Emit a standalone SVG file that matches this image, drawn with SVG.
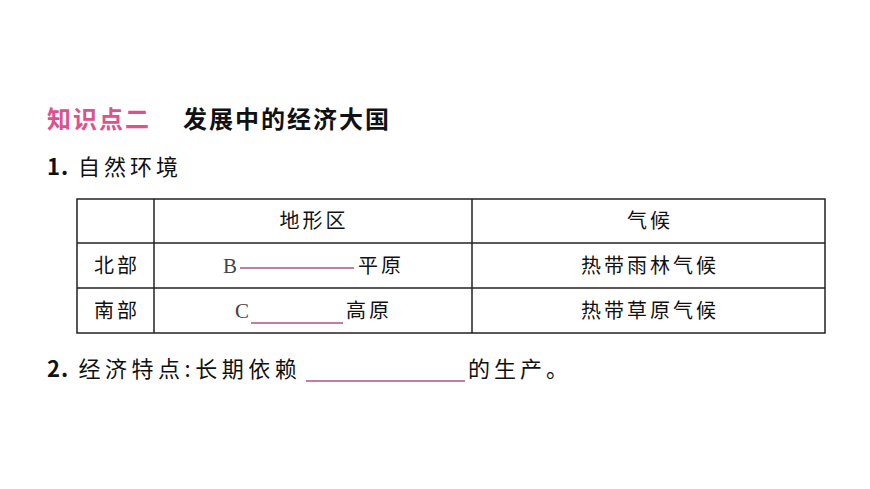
<svg xmlns="http://www.w3.org/2000/svg" width="870" height="489" viewBox="0 0 870 489">
<style>
.t{font-family:"Noto Sans CJK SC","Noto Sans",sans-serif;font-size:20px;fill:#111;letter-spacing:3px}
.b{font-weight:bold;font-size:24px;letter-spacing:2px}
.m{font-size:22px;letter-spacing:4px}
.s{font-family:"Liberation Serif","Noto Sans CJK SC",serif;font-size:21px;fill:#444}
.u{stroke:#b0508a;stroke-width:1.3}
.g{stroke:#222;stroke-width:1.5;fill:none}
</style>
<rect width="870" height="489" fill="#fff"/>
<g id="heading">
<text class="t b" x="47" y="128" style="fill:#e0508f">知识点二</text>
<text class="t b" x="183" y="128">发展中的经济大国</text>
</g>
<g id="section1"><text class="t m" x="47" y="175"><tspan font-weight="bold" style="letter-spacing:1px">1.</tspan> 自然环境</text></g>
<g id="table">
<rect class="g" x="77" y="199" width="748" height="134" stroke-width="2"/>
<line class="g" x1="77" y1="243" x2="825" y2="243"/>
<line class="g" x1="77" y1="288" x2="825" y2="288"/>
<line class="g" x1="154" y1="199" x2="154" y2="333"/>
<line class="g" x1="472" y1="199" x2="472" y2="333"/>
<text class="t" x="314" y="228" text-anchor="middle">地形区</text>
<text class="t" x="650" y="228" text-anchor="middle">气候</text>
<text class="t" x="117" y="273" text-anchor="middle">北部</text>
<text class="t" x="117" y="318" text-anchor="middle">南部</text>
<text class="s" x="223" y="273">B</text>
<line class="u" x1="240" y1="268" x2="354" y2="268"/>
<text class="t" x="358" y="273">平原</text>
<text class="s" x="235" y="318">C</text>
<line class="u" x1="251" y1="323" x2="343" y2="323"/>
<text class="t" x="346" y="318">高原</text>
<text class="t" x="650" y="273" text-anchor="middle">热带雨林气候</text>
<text class="t" x="650" y="318" text-anchor="middle">热带草原气候</text>
</g>
<g id="section2">
<text class="t m" x="47" y="377" style="letter-spacing:4.5px"><tspan font-weight="bold" style="letter-spacing:1px">2.</tspan> 经济特点:长期依赖</text>
<line class="u" x1="306" y1="381" x2="465" y2="381"/>
<text class="t m" x="468" y="377">的生产。</text>
</g>
</svg>
